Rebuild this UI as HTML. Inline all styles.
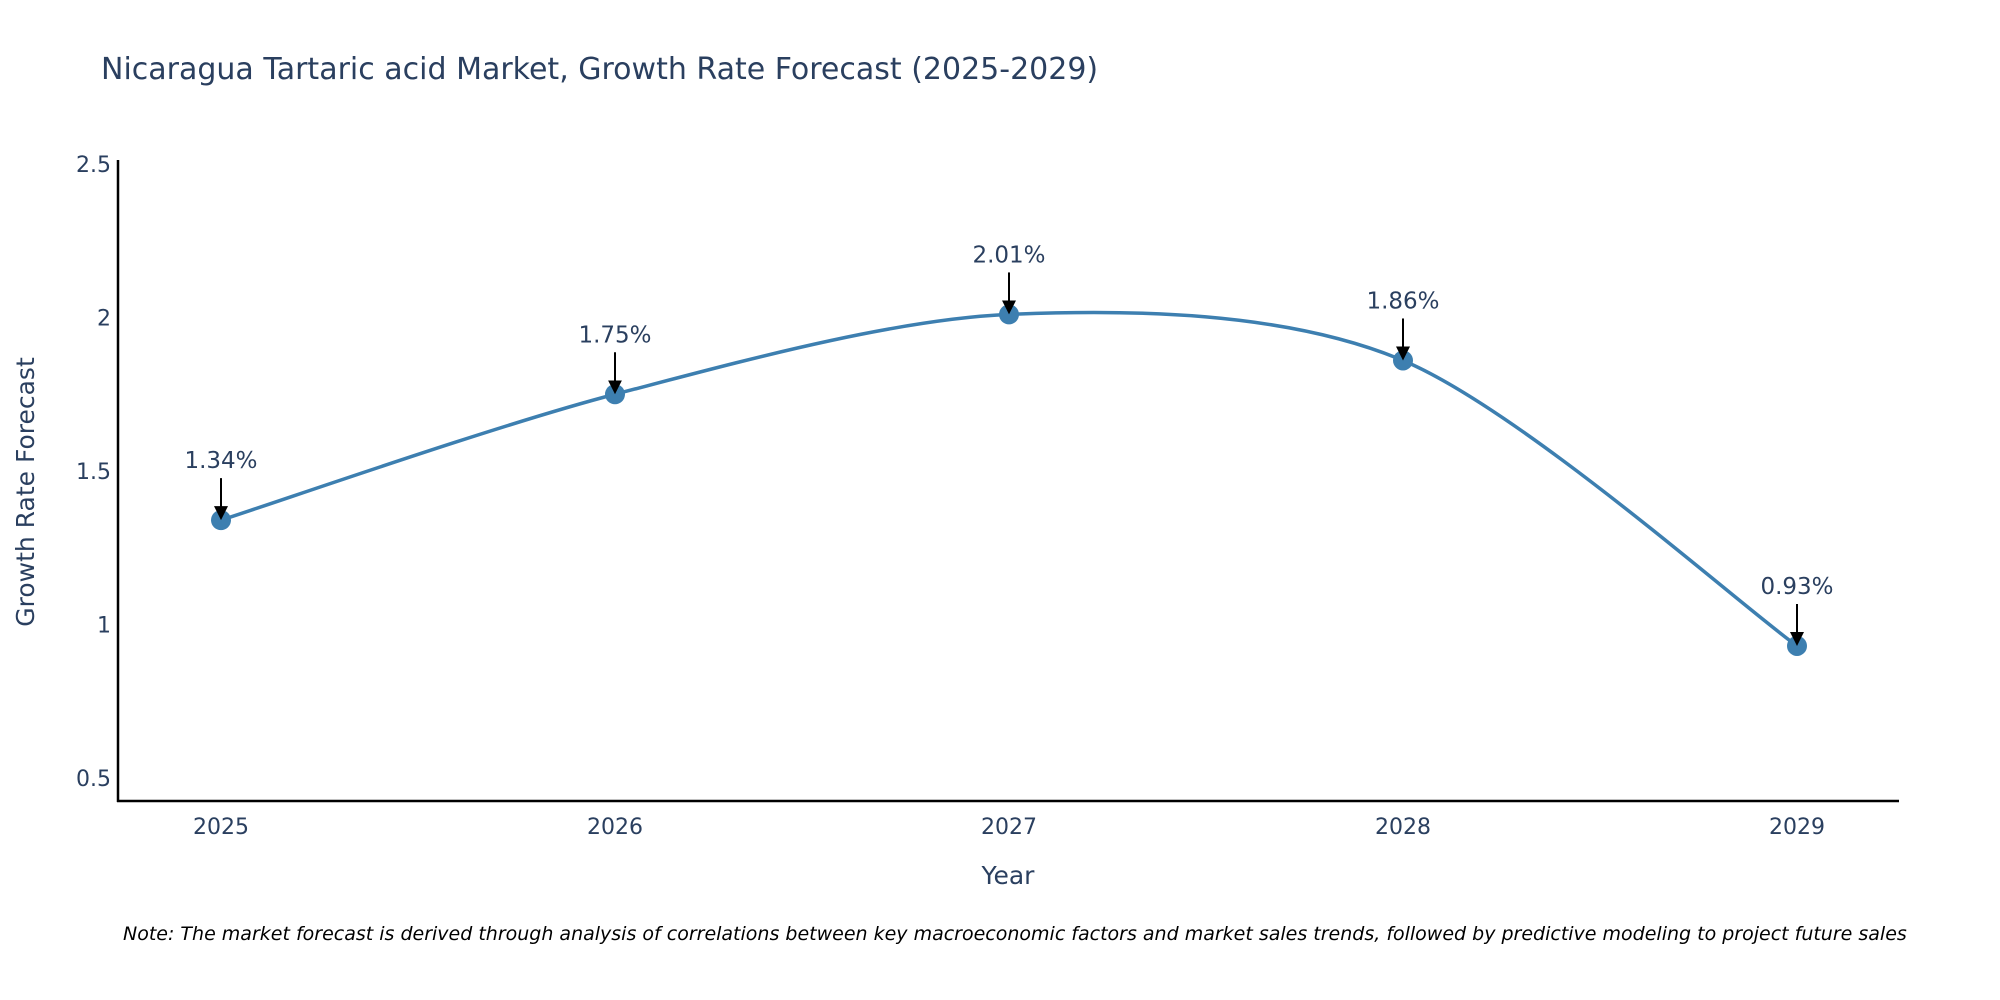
<!DOCTYPE html>
<html><head><meta charset="utf-8"><style>
html,body{margin:0;padding:0;background:#fff;}
svg{display:block;font-family:"DejaVu Sans","Liberation Sans",sans-serif;}
</style></head><body>
<svg id="chart" width="2000" height="1000">
<defs><marker id="ah" markerWidth="14" markerHeight="14" refX="11" refY="7" orient="auto" markerUnits="userSpaceOnUse" viewBox="0 0 14 14"><path d="M0,0 L14,7 L0,14 z" fill="#000"/></marker></defs>
<text x="101" y="79" font-size="30" fill="#2a3f5f">Nicaragua Tartaric acid Market, Growth Rate Forecast (2025-2029)</text>
<line x1="118" y1="160" x2="118" y2="802" stroke="#000" stroke-width="2.5"/>
<line x1="117" y1="801" x2="1899" y2="801" stroke="#000" stroke-width="2.5"/>
<text transform="translate(34,492) rotate(-90)" text-anchor="middle" font-size="25" fill="#2a3f5f">Growth Rate Forecast</text>
<text x="1008" y="884" text-anchor="middle" font-size="25" fill="#2a3f5f">Year</text>
<text x="123" y="940" font-size="19" font-style="italic" fill="#000">Note: The market forecast is derived through analysis of correlations between key macroeconomic factors and market sales trends, followed by predictive modeling to project future sales</text>
<g id="plot"></g>
</svg>
<script>
const years = ["2025","2026","2027","2028","2029"];
const values = [1.34, 1.75, 2.01, 1.86, 0.93];
const labels = ["1.34%","1.75%","2.01%","1.86%","0.93%"];
const yTicks = [0.5, 1, 1.5, 2, 2.5];
const yTickLabels = ["0.5","1","1.5","2","2.5"];
const NS = "http://www.w3.org/2000/svg";
function xS(i){return 221 + i*394;}
function yS(v){return 778 - (v-0.5)*307;}
const g = document.getElementById('plot');
function mk(t,a){const e=document.createElementNS(NS,t);for(const k in a)e.setAttribute(k,a[k]);g.appendChild(e);return e;}
yTicks.forEach((v,i)=>{
  const t=mk('text',{x:111,y:yS(v)+8,'text-anchor':'end','font-size':22,fill:'#2a3f5f'});
  
  
  t.textContent=yTickLabels[i];
});
years.forEach((y,i)=>{
  const t=mk('text',{x:xS(i),y:834,'text-anchor':'middle','font-size':22,fill:'#2a3f5f'});
  
  
  t.textContent=y;
});
const pts=values.map((v,i)=>[xS(i),yS(v)]);
let d="M"+pts[0][0]+","+pts[0][1];
const tn=0.45;
for(let i=0;i<pts.length-1;i++){
  const p0=pts[Math.max(0,i-1)],p1=pts[i],p2=pts[i+1],p3=pts[Math.min(pts.length-1,i+2)];
  const c1=[p1[0]+(p2[0]-p0[0])*tn/3,p1[1]+(p2[1]-p0[1])*tn/3];
  const c2=[p2[0]-(p3[0]-p1[0])*tn/3,p2[1]-(p3[1]-p1[1])*tn/3];
  d+=" C"+c1+" "+c2+" "+p2;
}
const line=mk('path',{d:d,fill:'none',stroke:'#3d7fb0','stroke-width':3.5});


pts.forEach((p,i)=>{
  const c=mk('circle',{cx:p[0],cy:p[1],r:10,fill:'#3d7fb0'});
  
  
  const a=mk('line',{x1:p[0],y1:p[1]-42,x2:p[0],y2:p[1]-3,stroke:'#000','stroke-width':2,'marker-end':'url(#ah)'});
  
  
  const t=mk('text',{x:p[0],y:p[1]-52,'text-anchor':'middle','font-size':23,fill:'#2a3f5f'});
  
  
  t.textContent=labels[i];
});
</script>
</body></html>
